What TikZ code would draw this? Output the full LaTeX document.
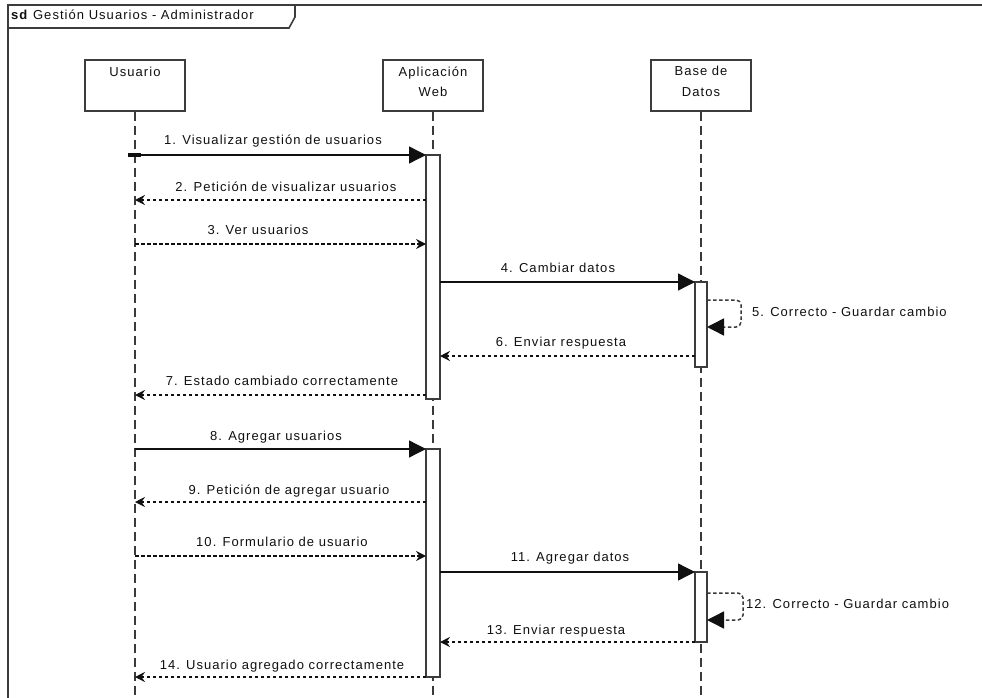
\documentclass[tikz,border=0pt]{standalone}
\usepackage{fontspec}
\setmainfont{Liberation Sans}[LetterSpace=8]
\usetikzlibrary{arrows.meta}
\definecolor{txt}{HTML}{101010}
\definecolor{boxc}{HTML}{3C3C3C}
\definecolor{linec}{HTML}{101010}
\definecolor{lifec}{HTML}{3A3A3A}
\begin{document}
\begin{tikzpicture}[x=1pt,y=-1pt,
  every node/.style={font=\fontsize{13}{15}\selectfont, text=txt, inner sep=0pt},
  partbox/.style={draw=boxc, line width=1.8pt, fill=white, minimum width=100pt, minimum height=51pt},
  actbox/.style={draw=boxc, line width=1.6pt, fill=white, minimum width=12pt},
  lifeline/.style={draw=lifec, line width=1.6pt, dash pattern=on 9pt off 5pt},
  syncmsg/.style={draw=linec, line width=1.3pt, -{Triangle[length=17pt,width=17pt]}},
  retmsg/.style={draw=linec, line width=1.2pt, dash pattern=on 3.5pt off 2.5pt, -{Stealth[length=10pt,width=10pt,inset=3.5pt]}},
  selfmsg/.style={draw=lifec, line width=1.5pt, dash pattern=on 3.5pt off 2.5pt, rounded corners=5pt, -{Triangle[length=17pt,width=17pt,color=linec]}},
  msglabel/.style={anchor=base},
  frameline/.style={draw=boxc, line width=1.6pt}
]
\useasboundingbox (0,0) rectangle (982,698);
\fill[white] (0,0) rectangle (982,698);

% frame
\draw[frameline] (8,698) -- (8,5) -- (982,5);
\draw[frameline] (8,28) -- (289,28) -- (295,17) -- (295,5);
\node[anchor=base west, font=\fontsize{13}{15}\selectfont] (title) at (11,20) {\textbf{sd} Gestión Usuarios - Administrador};

% participants
\node[partbox] (U) at (135,85.5) {};
\node[partbox] (A) at (433,85.5) {};
\node[partbox] (D) at (701,85.5) {};
\node[anchor=base] (Ut) at (135,77) {Usuario};
\node[anchor=base] (At1) at (433,77) {Aplicación};
\node[anchor=base] (At2) at (433,97) {Web};
\node[anchor=base] (Dt1) at (701,76) {Base de};
\node[anchor=base] (Dt2) at (701,97) {Datos};

% lifelines
\coordinate (Ub) at (135,698);
\coordinate (Ab) at (433,698);
\coordinate (Db) at (701,698);
\draw[lifeline] (U.south) -- (Ub);
\draw[lifeline] (A.south) -- (Ab);
\draw[lifeline] (D.south) -- (Db);

% activations
\node[actbox, minimum width=14pt, minimum height=244pt] (A1) at (433,277) {};
\node[actbox, minimum width=14pt, minimum height=228pt] (A2) at (433,563) {};
\node[actbox, minimum height=85pt] (D1) at (701,324.5) {};
\node[actbox, minimum height=70pt] (D2) at (701,607) {};

% endpoints
\coordinate (m1s) at (135,155);   \coordinate (m1e) at (426,155);
\coordinate (m2s) at (426,200);   \coordinate (m2e) at (135,200);
\coordinate (m3s) at (135,244);   \coordinate (m3e) at (426,244);
\coordinate (m4s) at (440,282);   \coordinate (m4e) at (695,282);
\coordinate (m5s) at (707,300);   \coordinate (m5e) at (707,327);
\coordinate (m6s) at (695,356);   \coordinate (m6e) at (440,356);
\coordinate (m7s) at (426,395);   \coordinate (m7e) at (135,395);
\coordinate (m8s) at (135,449);   \coordinate (m8e) at (426,449);
\coordinate (m9s) at (426,502);   \coordinate (m9e) at (135,502);
\coordinate (m10s) at (135,556);  \coordinate (m10e) at (426,556);
\coordinate (m11s) at (440,572);  \coordinate (m11e) at (695,572);
\coordinate (m12s) at (707,593);  \coordinate (m12e) at (707,620);
\coordinate (m13s) at (695,642);  \coordinate (m13e) at (440,642);
\coordinate (m14s) at (426,677);  \coordinate (m14e) at (135,677);

% start mark of message 1
\draw[linec, line width=4pt] (128,155) -- (m1s) -- (141,155);

% messages
\draw[syncmsg] (m1s) -- (m1e);
\draw[retmsg] (m2s) -- (m2e);
\draw[retmsg] (m3s) -- (m3e);
\draw[syncmsg] (m4s) -- (m4e);
\draw[selfmsg] (m5s) -- (741,300) -- (741,327) -- (m5e);
\draw[retmsg] (m6s) -- (m6e);
\draw[retmsg] (m7s) -- (m7e);
\draw[syncmsg] (m8s) -- (m8e);
\draw[retmsg] (m9s) -- (m9e);
\draw[retmsg] (m10s) -- (m10e);
\draw[syncmsg] (m11s) -- (m11e);
\draw[selfmsg] (m12s) -- (743,593) -- (743,620) -- (m12e);
\draw[retmsg] (m13s) -- (m13e);
\draw[retmsg] (m14s) -- (m14e);

% labels
\node[msglabel] (l1) at (273,145) {1. Visualizar gestión de usuarios};
\node[msglabel] (l2) at (286,191) {2. Petición de visualizar usuarios};
\node[msglabel] (l3) at (258,234) {3. Ver usuarios};
\node[msglabel] (l4) at (558,272) {4. Cambiar datos};
\node[anchor=base west] (l5) at (752,316) {5. Correcto - Guardar cambio};
\node[msglabel] (l6) at (561,346) {6. Enviar respuesta};
\node[msglabel] (l7) at (282,385) {7. Estado cambiado correctamente};
\node[msglabel] (l8) at (276,440) {8. Agregar usuarios};
\node[msglabel] (l9) at (289,494) {9. Petición de agregar usuario};
\node[msglabel] (l10) at (282,546) {10. Formulario de usuario};
\node[msglabel] (l11) at (570,561) {11. Agregar datos};
\node[anchor=base west] (l12) at (746,608) {12. Correcto - Guardar cambio};
\node[msglabel] (l13) at (556,634) {13. Enviar respuesta};
\node[msglabel] (l14) at (282,669) {14. Usuario agregado correctamente};
\end{tikzpicture}
\end{document}
